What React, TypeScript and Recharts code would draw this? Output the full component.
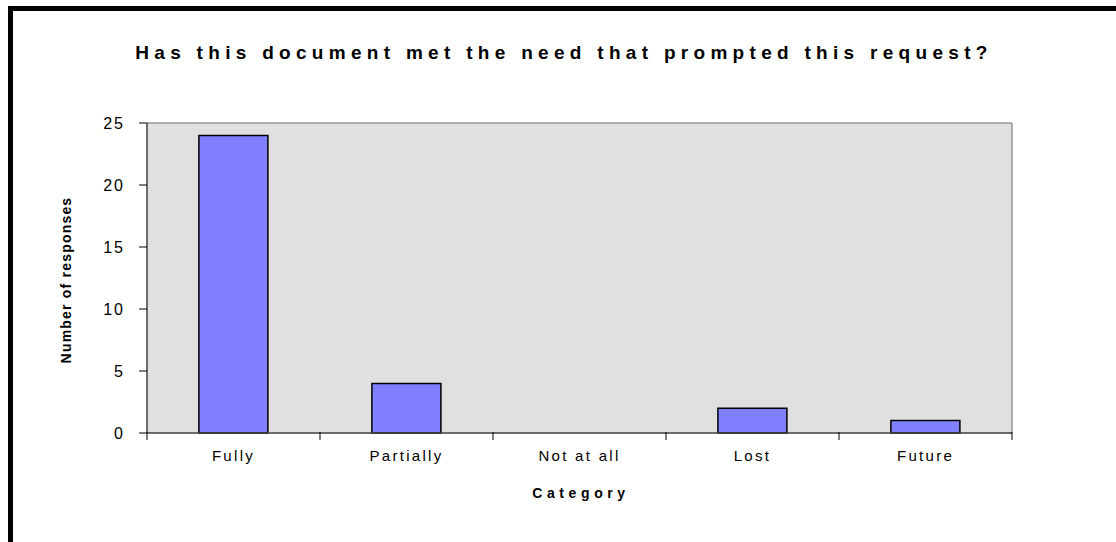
import React from 'react';
import { BarChart, Bar, XAxis, YAxis, CartesianGrid, ReferenceLine } from 'recharts';

const categories = ['Fully', 'Partially', 'Not at all', 'Lost', 'Future'];
const responses = [24, 4, 0, 2, 1];
const yTicks = [0, 5, 10, 15, 20, 25];

const data = categories.map((c, i) => ({ category: c, responses: responses[i] }));

const FONT = '"Liberation Sans", Arial, sans-serif';

const CategoryTick = (props: any) => {
  const { x, y, payload, index, visibleTicksCount } = props;
  const half = payload && payload.offset ? payload.offset : 0;
  const axisY = y - 17;
  const last = index === (visibleTicksCount ?? categories.length) - 1;
  return (
    <g>
      <line x1={x - half} x2={x - half} y1={axisY - 1} y2={axisY + 7} stroke="#000" strokeWidth={1} />
      {last && <line x1={x + half} x2={x + half} y1={axisY - 1} y2={axisY + 7} stroke="#000" strokeWidth={1} />}
      <text x={x} y={y} textAnchor="middle" dominantBaseline="hanging" fill="#000" fontSize={15} fontFamily={FONT} letterSpacing={2.3}>
        {payload.value}
      </text>
    </g>
  );
};

export default function App() {
  return (
    <div style={{ position: 'absolute', left: 0, top: 0, width: 1116, height: 542, overflow: 'hidden', fontFamily: FONT, background: '#fff' }}>
      <div style={{ position: 'absolute', left: 8, top: 6, width: 1108, height: 536, borderTop: '5px solid #000', borderLeft: '5px solid #000', boxSizing: 'border-box' }} />
      <div style={{ position: 'absolute', left: 0, top: 0 }}>
        <BarChart width={1116} height={542} data={data} margin={{ top: 123, right: 104, left: 67, bottom: 49 }} barCategoryGap="30%">
          <CartesianGrid fill="#E0E0E0" horizontal={false} vertical={false} />
          <XAxis dataKey="category" height={60} tickLine={false} axisLine={false} tickSize={6} tickMargin={11} interval={0} tick={<CategoryTick />} />
          <YAxis domain={[0, 25]} ticks={yTicks} width={80} tickSize={8} tickMargin={14} tickLine={{ stroke: '#000' }} axisLine={false}
            tick={{ fill: '#000', fontSize: 16, fontFamily: FONT, letterSpacing: 2 }} />
          <ReferenceLine y={25} stroke="#999" strokeWidth={1.5} />
          <ReferenceLine x="Future" position="end" stroke="#999" strokeWidth={1.5} />
          <ReferenceLine x="Fully" position="start" stroke="#404040" strokeWidth={1.5} />
          <ReferenceLine y={0} stroke="#404040" strokeWidth={1.5} />
          <Bar dataKey="responses" fill="#8080FF" stroke="#000" strokeWidth={1.5} isAnimationActive={false} />
        </BarChart>
      </div>
      <div style={{ position: 'absolute', left: 0, width: 1128, top: 42, textAlign: 'center', fontSize: 19, fontWeight: 'bold', letterSpacing: 5.3, whiteSpace: 'nowrap', color: '#000' }}>
        Has this document met the need that prompted this request?
      </div>
      <div style={{ position: 'absolute', left: 480, width: 202, top: 485, textAlign: 'center', fontSize: 14, fontWeight: 'bold', letterSpacing: 4.6, color: '#000' }}>
        Category
      </div>
      <div style={{ position: 'absolute', left: 66, top: 281, width: 0, height: 0 }}>
        <div style={{ position: 'absolute', left: -150, top: -9, width: 300, textAlign: 'center', transform: 'rotate(-90deg)', fontSize: 14, fontWeight: 'bold', letterSpacing: 1.2, whiteSpace: 'nowrap', color: '#000' }}>
          Number of responses
        </div>
      </div>
    </div>
  );
}
